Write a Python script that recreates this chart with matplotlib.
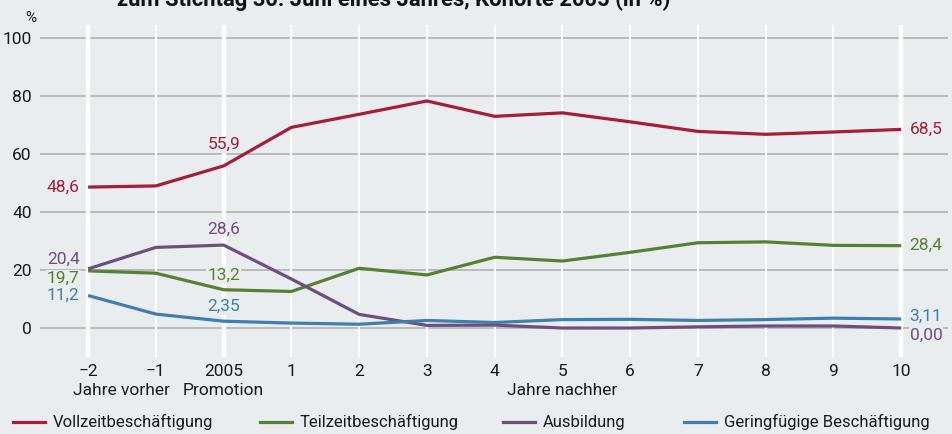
import matplotlib
matplotlib.use("Agg")
import matplotlib.pyplot as plt
from matplotlib.lines import Line2D

plt.rcParams['font.family'] = ['Roboto', 'DejaVu Sans']

# Jahre relativ zur Promotion (0 = 2005)
jahre = [-2, -1, 0, 1, 2, 3, 4, 5, 6, 7, 8, 9, 10]
tick_labels = ['\u22122', '\u22121', '2005', '1', '2', '3', '4', '5', '6', '7', '8', '9', '10']

vollzeit = [48.6, 49.0, 55.9, 69.2, 73.7, 78.3, 73.0, 74.2, 71.1, 67.8, 66.8, 67.6, 68.5]
teilzeit = [19.7, 18.9, 13.2, 12.6, 20.6, 18.3, 24.4, 23.1, 26.1, 29.4, 29.7, 28.5, 28.4]
ausbildung = [20.4, 27.8, 28.6, 16.9, 4.7, 0.9, 1.0, 0.0, 0.0, 0.4, 0.7, 0.7, 0.00]
geringfuegig = [11.2, 4.8, 2.35, 1.7, 1.3, 2.6, 1.9, 2.9, 3.0, 2.6, 2.9, 3.4, 3.11]

serien = ['Vollzeitbeschäftigung', 'Teilzeitbeschäftigung', 'Ausbildung', 'Geringfügige Beschäftigung']
farben = ['#a51d36', '#5b7f32', '#6d4f7e', '#3c7fb0']

bg = '#e9edf0'

fig = plt.figure(figsize=(9.53, 4.34), dpi=100, facecolor=bg)
ax = fig.add_axes([40/953, 1-357/434, 908/953, 332/434], facecolor=bg)
ax.set_xlim(-2.71, 10.69)
ax.set_ylim(-10, 104.5)

# Gitter
for y in range(0, 101, 20):
    ax.axhline(y, color='#b4b6b8', lw=1.3, zorder=1)
for x in jahre:
    dick = x in (-2, 0, 10)
    ax.axvline(x, color='white', lw=3.2 if dick else 1.5, zorder=1.5)

daten = [vollzeit, teilzeit, ausbildung, geringfuegig]
for werte, f, name in zip(daten, farben, serien):
    ax.plot(jahre, werte, color=f, lw=2.3, zorder=3, solid_capstyle='butt', label=name)

def fmt(v, nk=1):
    return f"{v:.{nk}f}".replace('.', ',')

fs = 12.5
box = dict(boxstyle='square,pad=0.05', fc=bg, ec='none')

def label(werte, i, dx, dy, ha, va, farbe, nk=1):
    ax.annotate(fmt(werte[i], nk), (jahre[i], werte[i]), xytext=(dx, dy), textcoords='offset points',
                ha=ha, va=va, color=farbe, fontsize=fs, bbox=box, zorder=4)

# Beschriftungen links (-2)
label(vollzeit, 0, -6, 0, 'right', 'center', farben[0])
label(ausbildung, 0, -6, 7, 'right', 'center', farben[2])
label(teilzeit, 0, -6, -5.5, 'right', 'center', farben[1])
label(geringfuegig, 0, -6, 0, 'right', 'center', farben[3])
# Beschriftungen 2005
label(vollzeit, 2, 0, 10, 'center', 'bottom', farben[0])
label(ausbildung, 2, 0, 6, 'center', 'bottom', farben[2])
label(teilzeit, 2, 0, 5, 'center', 'bottom', farben[1])
label(geringfuegig, 2, 0, 5, 'center', 'bottom', farben[3], nk=2)
# Beschriftungen rechts (10)
label(vollzeit, -1, 6, 0, 'left', 'center', farben[0])
label(teilzeit, -1, 6, 0, 'left', 'center', farben[1])
label(geringfuegig, -1, 6, 2, 'left', 'center', farben[3], nk=2)
label(ausbildung, -1, 6, -5, 'left', 'center', farben[2], nk=2)

# Achsen
for s in ax.spines.values():
    s.set_visible(False)
ax.set_yticks(range(0, 101, 20))
ax.set_xticks(jahre)
ax.set_xticklabels(tick_labels)
ax.tick_params(axis='both', length=0, labelsize=fs, colors='#1a1a1a')
ax.tick_params(axis='y', pad=6)
ax.tick_params(axis='x', pad=5)

ax.text(-2.71 - 0.14, 104.5, '%', ha='center', va='bottom', fontsize=11, color='#1a1a1a',
        transform=ax.transData, clip_on=False)

# Unterzeilen der x-Achse
sub = [(-1.5, 'Jahre vorher'), (0, 'Promotion'), (5, 'Jahre nachher')]
for x, t in sub:
    ax.text(x, -0.077, t, transform=ax.get_xaxis_transform(), ha='center', va='top',
            fontsize=fs, color='#1a1a1a')

# Titel (oben angeschnitten)
fig.text(117/953, 1-6/434, 'zum Stichtag 30. Juni eines Jahres, Kohorte 2005 (in %)',
         ha='left', va='baseline', fontsize=15.8, fontweight='bold', color='#111111')

# Legende
xs = [13, 260, 503, 684]
for x, name, f in zip(xs, serien, farben):
    fig.add_artist(Line2D([x/953, (x+32)/953], [1-422/434]*2, color=f, lw=2.3))
    fig.text((x+40)/953, 1-422/434, name, ha='left', va='center', fontsize=12, color='#1a1a1a')

fig.savefig('out.png', dpi=100, facecolor=bg)
